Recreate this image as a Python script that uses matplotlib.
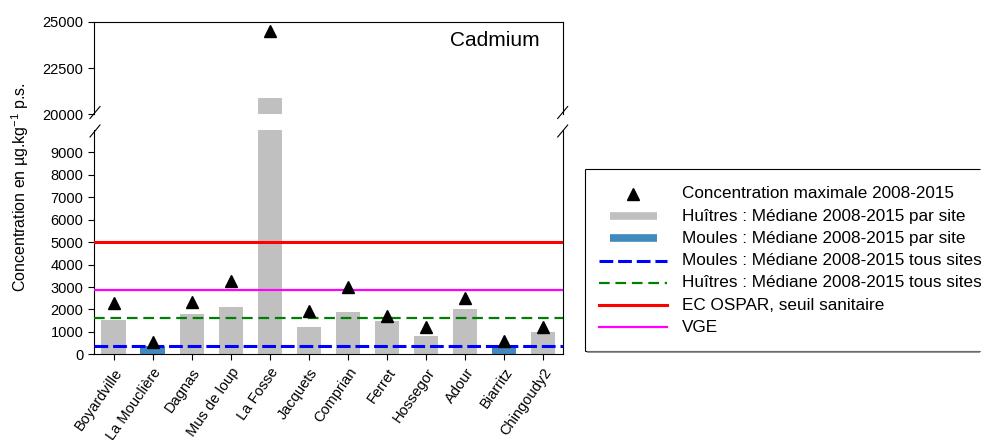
import numpy as np
import matplotlib
matplotlib.use("Agg")
import matplotlib.pyplot as plt
from matplotlib.lines import Line2D

plt.rcParams['font.family'] = ['Liberation Sans', 'DejaVu Sans']
plt.rcParams['mathtext.fontset'] = 'custom'
plt.rcParams['mathtext.rm'] = 'Liberation Sans'
plt.rcParams['mathtext.it'] = 'Liberation Sans:italic'

# Cadmium dans les coquillages, par site
sites = ['Boyardville', 'La Mouclière', 'Dagnas', 'Mus de loup', 'La Fosse',
         'Jacquets', 'Comprian', 'Ferret', 'Hossegor', 'Adour', 'Biarritz',
         'Chingoudy2']
espece = ['H', 'M', 'H', 'H', 'H', 'H', 'H', 'H', 'H', 'H', 'M', 'H']
mediane = [1550, 370, 1790, 2100, 20900, 1220, 1890, 1500, 820, 2020, 400, 1000]
maximum = [2300, 550, 2350, 3270, 24500, 1950, 3020, 1710, 1230, 2530, 610, 1230]

med_moules_tous = 380
med_huitres_tous = 1600
seuil_ospar = 5000
vge = 2860

gris = '#c0c0c0'
bleu = '#4289bd'

W, H = 987, 440
fig = plt.figure(figsize=(W / 100, H / 100), dpi=100)

def fx(px):
    return px / W

def fy(py):
    return 1 - py / H

x_left, x_right = 94, 562.7
ax_bas = fig.add_axes([fx(x_left), fy(354.3), fx(x_right - x_left), fy(130) - fy(354.3)])
ax_haut = fig.add_axes([fx(x_left), fy(114.3), fx(x_right - x_left), fy(22) - fy(114.3)])

x = np.arange(len(sites))
couleurs = [bleu if e == 'M' else gris for e in espece]

for ax in (ax_bas, ax_haut):
    ax.bar(x, mediane, width=0.62, color=couleurs, zorder=1)
    ax.axhline(med_moules_tous, color='blue', lw=2.2, dashes=(4.5, 1.6), zorder=3)
    ax.axhline(med_huitres_tous, color='green', lw=1.6, dashes=(4.8, 2.6), zorder=3)
    ax.axhline(seuil_ospar, color='red', lw=2.2, zorder=3)
    ax.axhline(vge, color='magenta', lw=1.6, zorder=3)
    ax.plot(x, maximum, '^', color='black', ms=9, zorder=4)
    ax.set_xlim(-0.5, len(sites) - 0.5)
    ax.tick_params(axis='y', direction='out', length=4, width=0.8,
                   labelsize=10.5, right=False)
    for s in ax.spines.values():
        s.set_linewidth(0.8)

ax_bas.set_ylim(0, 10000)
ax_bas.set_yticks(np.arange(0, 10000, 1000))
ax_bas.spines['top'].set_visible(False)
ax_bas.set_xticks(x)
ax_bas.set_xticklabels(sites, rotation=55, ha='right', va='top',
                       rotation_mode='anchor', fontsize=10.5)
ax_bas.tick_params(axis='x', direction='out', length=4, width=0.8, pad=4)

ax_haut.set_ylim(20000, 25000)
ax_haut.set_yticks([20000, 22500, 25000])
ax_haut.spines['bottom'].set_visible(False)
ax_haut.set_xticks([])
ax_haut.text(0.76, 0.74, 'Cadmium', transform=ax_haut.transAxes, fontsize=15)

# marques de rupture d'axe
for xc in (x_left + 1, x_right):
    for yc in (112.5, 131):
        fig.add_artist(Line2D([fx(xc - 5), fx(xc + 5)], [fy(yc + 6), fy(yc - 6)],
                              color='black', lw=0.8))

fig.text(fx(20), fy(187), 'Concentration en µg.kg$^{-1}$ p.s.', rotation=90,
         ha='center', va='center', fontsize=11.5)

# légende (cadre ouvert à droite, ombre grise en bas)
cadre = dict(color='black', lw=0.8, solid_capstyle='butt')
for xs, ys in (([585, 980], [169, 169]), ([585, 585], [169, 351]), ([585, 980], [351, 351])):
    fig.add_artist(Line2D([fx(v) for v in xs], [fy(v) for v in ys], **cadre))
fig.add_artist(Line2D([fx(587), fx(980)], [fy(352.2), fy(352.2)], color='#808080',
                      lw=1.2, solid_capstyle='butt'))

leg = fig.add_axes([0, 0, 1, 1], zorder=5)
leg.set_xlim(0, W)
leg.set_ylim(H, 0)
leg.axis('off')

entrees = [
    ('Concentration maximale 2008-2015', dict(marker='^', color='black', ms=9, ls='none'), 'marker'),
    ('Huîtres : Médiane 2008-2015 par site', dict(color=gris, lw=5.5, solid_capstyle='butt'), 'bar'),
    ('Moules : Médiane 2008-2015 par site', dict(color=bleu, lw=5.5, solid_capstyle='butt'), 'bar'),
    ('Moules : Médiane 2008-2015 tous sites', dict(color='blue', lw=2.2, dashes=(4.5, 1.6)), 'line'),
    ('Huîtres : Médiane 2008-2015 tous sites', dict(color='green', lw=1.6, dashes=(4.8, 2.6)), 'line'),
    ('EC OSPAR, seuil sanitaire', dict(color='red', lw=2.2), 'line'),
    ('VGE', dict(color='magenta', lw=1.6), 'line'),
]
for i, (texte, style, genre) in enumerate(entrees):
    yr = 194 + i * 22.2
    if genre == 'marker':
        leg.plot([633], [yr], **style)
    elif genre == 'bar':
        leg.plot([610, 657], [yr, yr], **style)
    else:
        leg.plot([599, 667], [yr, yr], **style)
    leg.text(682, yr, texte, fontsize=12.3, va='center', ha='left')

fig.savefig('out.png', dpi=100)
